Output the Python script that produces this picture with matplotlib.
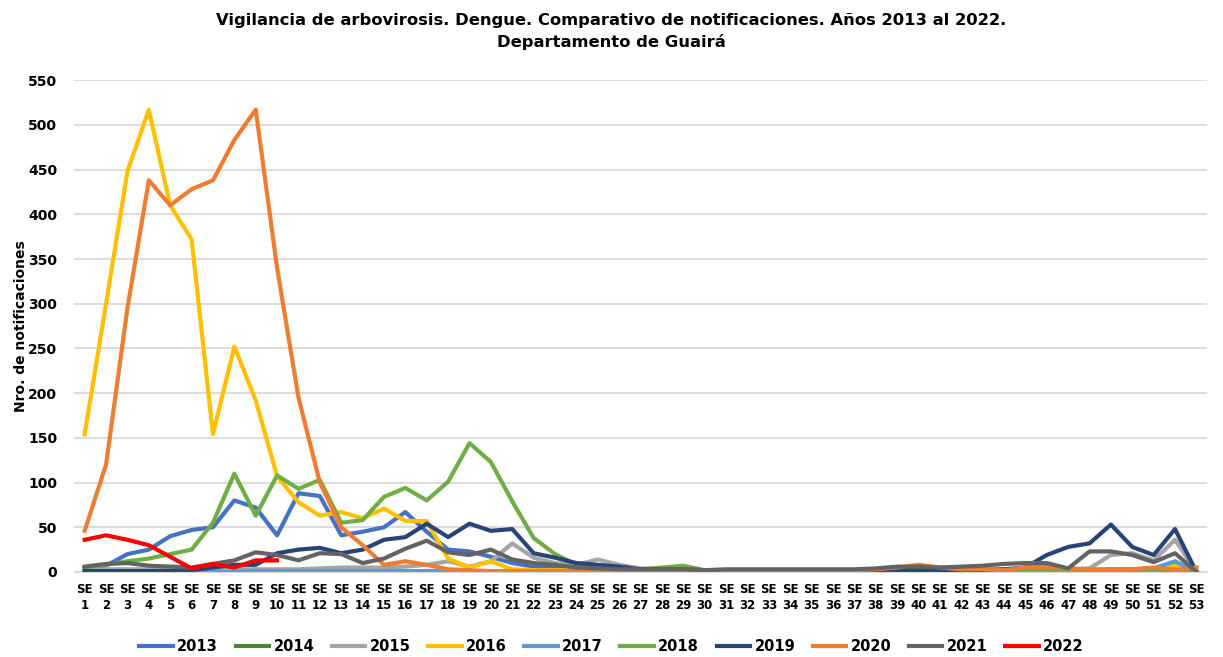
import numpy as np
import matplotlib.pyplot as plt

weeks = ["SE\n%d" % i for i in range(1, 54)]

y2013 = [5,7,20,25,40,47,50,80,72,41,88,85,41,45,50,67,45,25,23,17,10,6,4,3,2,2,2,2,2,1,2,2,2,2,2,2,2,2,2,2,2,2,2,2,3,3,2,2,3,3,4,10,0]
y2014 = [1,1,1,1,1,1,1,1,1,1,1,1,1,1,1,1,1,1,1,1,1,1,1,1,1,1,1,1,1,1,1,1,1,1,1,1,1,1,1,1,1,1,1,1,1,1,1,1,1,1,1,2,0]
y2015 = [3,3,3,3,3,3,3,3,3,3,3,4,5,5,5,6,8,12,6,12,32,16,10,8,14,8,4,3,2,2,2,2,2,2,2,2,2,2,2,2,2,2,3,3,3,3,3,4,19,21,13,36,0]
y2016 = [154,300,448,517,410,372,154,252,192,107,78,63,67,60,71,57,57,15,5,12,3,2,2,2,2,2,2,2,2,2,2,2,2,2,2,2,2,2,2,2,2,2,2,2,2,2,2,2,2,2,3,7,0]
y2017 = [0,0,0,0,0,0,0,0,1,1,1,1,1,1,1,1,1,1,1,1,1,1,1,1,1,1,1,1,1,1,1,1,1,1,1,1,1,1,1,1,1,1,1,1,1,1,1,1,1,2,4,12,0]
y2018 = [5,8,12,15,20,25,55,110,63,108,93,103,55,58,84,94,80,101,144,123,79,38,20,8,5,4,3,5,7,2,2,2,2,2,2,2,2,2,2,2,2,2,2,2,2,2,2,2,2,2,2,3,0]
y2019 = [1,1,1,1,1,2,5,8,8,21,25,27,21,25,36,39,54,39,54,46,48,21,16,10,8,6,3,3,3,2,2,2,2,2,2,2,2,2,2,2,2,2,2,3,5,19,28,32,53,28,19,48,0]
y2020 = [46,120,295,438,410,428,438,483,517,340,195,100,50,30,8,12,8,3,2,1,1,1,1,1,1,1,1,1,1,1,2,2,2,2,2,2,2,3,5,8,5,3,3,2,5,6,4,3,3,3,5,2,5]
y2021 = [6,9,10,7,6,5,9,13,22,19,13,21,20,10,15,26,35,22,19,25,14,10,8,5,4,3,3,3,3,2,3,3,3,3,3,3,3,4,6,6,5,6,7,9,10,10,4,23,23,19,11,21,0]
y2022 = [36,41,36,30,17,4,9,5,13,13]

series = [("2013", y2013, "#4472C4"), ("2014", y2014, "#548235"),
          ("2015", y2015, "#A5A5A5"), ("2016", y2016, "#FFC000"),
          ("2017", y2017, "#5B9BD5"), ("2018", y2018, "#70AD47"),
          ("2019", y2019, "#264478"), ("2020", y2020, "#ED7D31"),
          ("2021", y2021, "#636363"), ("2022", y2022, "#FF0000")]

fig = plt.figure(figsize=(12.23, 6.57), dpi=100)
ax = fig.add_axes([0.0605, 0.1294, 0.9265, 0.7486])

x = np.arange(len(weeks))
for name, vals, col in series:
    ax.plot(x[:len(vals)], vals, color=col, lw=3, label=name, solid_joinstyle="round")

ax.set_xlim(-0.5, len(weeks) - 0.5)
ax.set_ylim(0, 550)
ax.set_yticks(range(0, 551, 50))
ax.set_xticks(x)
ax.set_xticklabels(weeks, fontsize=8.5, fontweight="bold", linespacing=1.25)
ax.tick_params(axis="y", labelsize=10, length=0, pad=12)
ax.tick_params(axis="x", length=0, pad=8)
for t in ax.get_yticklabels():
    t.set_fontweight("bold")
ax.yaxis.grid(True, color="#D9D9D9", lw=1.3)
ax.set_axisbelow(True)
for s in ["top", "right", "left"]:
    ax.spines[s].set_visible(False)
ax.spines["bottom"].set_color("#D9D9D9")
ax.set_ylabel("Nro. de notificaciones", fontsize=10, fontweight="bold", labelpad=0)

fig.suptitle("Vigilancia de arbovirosis. Dengue. Comparativo de notificaciones. Años 2013 al 2022.\nDepartamento de Guairá",
             fontsize=11.8, fontweight="bold", y=0.98, linespacing=1.45)

leg = fig.legend(loc="lower center", ncol=10, frameon=False, bbox_to_anchor=(0.5, -0.015),
                 handlelength=2.3, columnspacing=1.2, handletextpad=0.3,
                 prop={"family": "DejaVu Sans", "weight": "bold", "size": 10.5})

fig.savefig("out.png", dpi=100)
